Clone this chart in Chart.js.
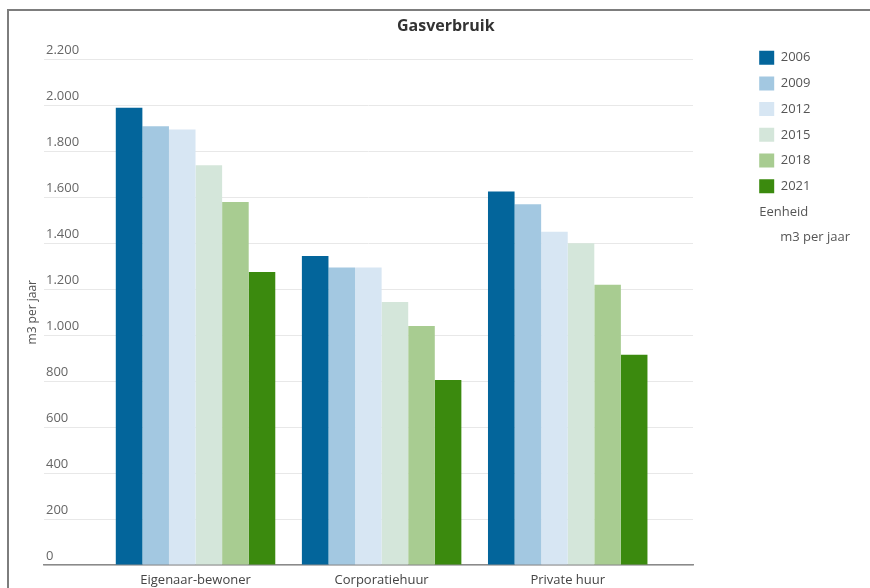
<!DOCTYPE html>
<html lang="nl">
<head>
<meta charset="utf-8">
<title>Gasverbruik</title>
<script src="https://cdn.jsdelivr.net/npm/chart.js@4/dist/chart.umd.min.js"></script>
<style>
    html, body { margin: 0; padding: 0; background: #fff; }
    body { width: 870px; height: 588px; position: relative; overflow: hidden; }
    .frame {
        position: absolute; left: 7px; top: 9px; width: 900px; height: 600px;
        border-left: 2px solid #7d7d7d; border-top: 2px solid #7d7d7d;
    }
    .chart-box { position: absolute; left: 0; top: 0; width: 870px; height: 588px; }
</style>
</head>
<body>
<div class="frame"></div>
<div class="chart-box"><canvas id="gasChart"></canvas></div>
<script>
const categories = ['Eigenaar-bewoner', 'Corporatiehuur', 'Private huur'];
const years = ['2006', '2009', '2012', '2015', '2018', '2021'];

const gas2006 = [1990, 1345, 1625];
const gas2009 = [1910, 1295, 1570];
const gas2012 = [1895, 1295, 1450];
const gas2015 = [1740, 1145, 1400];
const gas2018 = [1580, 1040, 1220];
const gas2021 = [1275, 805, 915];

const unitLabel = 'Eenheid';
const unitText = 'm3 per jaar';

const series = [gas2006, gas2009, gas2012, gas2015, gas2018, gas2021];
const colors = ['#03659b', '#a3c8e1', '#d7e6f3', '#d4e6da', '#a8cc91', '#3b8a0e'];

const fontFamily = "'Open Sans', 'Noto Sans', sans-serif";

function formatNumber(v) {
    return String(v).replace(/\B(?=(\d{3})+(?!\d))/g, '.');
}

// legend sits to the right with a wide gap, plus the unit note under it
const legendPlacement = {
    id: 'legendPlacement',
    beforeInit(chart) {
        const fit = chart.legend.fit;
        chart.legend.fit = function () {
            fit.call(this);
            this.width = 177;
        };
    },
    afterLayout(chart) {
        const lg = chart.legend;
        lg.left = 747.5;
        lg.right = 870;
        lg.top = 39;
        lg.bottom = 588;
    },
    afterDraw(chart) {
        const boxes = chart.legend.legendHitBoxes;
        if (!boxes.length) return;
        const last = boxes[boxes.length - 1];
        const ctx = chart.ctx;
        const y = last.top + last.height / 2 + 25.7;
        ctx.save();
        ctx.font = '13px ' + fontFamily;
        ctx.fillStyle = '#555';
        ctx.textBaseline = 'middle';
        ctx.textAlign = 'left';
        ctx.fillText(unitLabel, last.left, y);
        ctx.fillText(unitText, last.left + 21, y + 25.7);
        ctx.restore();
    }
};

const ctx = document.getElementById('gasChart').getContext('2d');
new Chart(ctx, {
    type: 'bar',
    data: {
        datasets: years.map((year, i) => ({
            label: year,
            data: series[i].map((v, j) => ({ x: j, y: v })),
            backgroundColor: colors[i],
            borderWidth: 0,
            categoryPercentage: 0.857,
            barPercentage: 1.0
        }))
    },
    options: {
        responsive: true,
        maintainAspectRatio: false,
        animation: false,
        layout: { padding: { left: 21.6, right: 0, top: 0, bottom: -6.6 } },
        scales: {
            x: {
                type: 'linear',
                min: -0.8143,
                max: 2.6732,
                offset: false,
                grid: { display: false, drawTicks: false },
                border: { display: true, color: '#8a8a8a', width: 1.5 },
                afterBuildTicks: (scale) => {
                    scale.ticks = categories.map((c, i) => ({ value: i }));
                },
                ticks: {
                    padding: 7,
                    maxRotation: 0,
                    autoSkip: false,
                    color: '#444',
                    font: { family: fontFamily, size: 13 },
                    callback: (v) => categories[v] ?? ''
                }
            },
            y: {
                min: 0,
                max: 2200,
                grid: { color: '#e8e8e8', lineWidth: 1, drawTicks: false },
                border: { display: false },
                ticks: {
                    stepSize: 200,
                    mirror: true,
                    padding: 2,
                    labelOffset: -9,
                    color: '#666',
                    font: { family: fontFamily, size: 13 },
                    callback: (v) => formatNumber(v)
                },
                title: {
                    display: true,
                    text: 'm3 per jaar',
                    color: '#555',
                    padding: { top: 4, bottom: 0 },
                    font: { family: fontFamily, size: 12 }
                }
            }
        },
        plugins: {
            title: {
                display: true,
                text: 'Gasverbruik',
                color: '#333',
                padding: { top: 16.4, bottom: 23.9 },
                font: { family: fontFamily, size: 16, weight: 'bold' }
            },
            legend: {
                position: 'right',
                align: 'start',
                labels: {
                    boxWidth: 15,
                    boxHeight: 14,
                    padding: 11.7,
                    color: '#555',
                    font: { family: fontFamily, size: 13 }
                }
            },
            tooltip: { enabled: true }
        }
    },
    plugins: [legendPlacement]
});
</script>
</body>
</html>
